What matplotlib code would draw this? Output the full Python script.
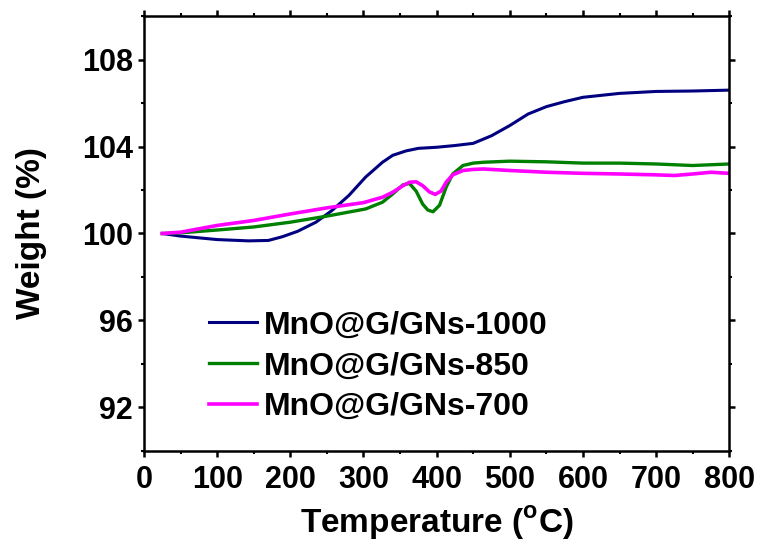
import matplotlib
matplotlib.use("Agg")
import matplotlib.pyplot as plt
from matplotlib.ticker import MultipleLocator

plt.rcParams["font.family"] = ["Liberation Sans", "DejaVu Sans"]
plt.rcParams["font.weight"] = "bold"
plt.rcParams["mathtext.fontset"] = "custom"
plt.rcParams["mathtext.rm"] = "Liberation Sans:bold"
plt.rcParams["mathtext.bf"] = "Liberation Sans:bold"

# TGA curves (temperature in C, weight in %)
t_1000 = [25, 50, 100, 143, 170, 189, 210, 235, 257, 280, 303, 326, 340, 358,
          375, 400, 425, 450, 475, 500, 525, 550, 575, 600, 650, 700, 750, 800]
w_1000 = [100.0, 99.88, 99.72, 99.66, 99.68, 99.85, 100.1, 100.52, 101.06,
          101.75, 102.6, 103.28, 103.6, 103.8, 103.92, 103.97, 104.05, 104.15,
          104.5, 104.97, 105.5, 105.84, 106.07, 106.27, 106.45, 106.54,
          106.56, 106.6]

t_850 = [25, 50, 100, 150, 200, 250, 303, 326, 340, 354, 363, 372, 381, 388,
         395, 404, 413, 422, 436, 450, 464, 500, 550, 600, 650, 700, 750, 800]
w_850 = [100.0, 100.03, 100.16, 100.3, 100.52, 100.8, 101.13, 101.44, 101.82,
         102.24, 102.3, 101.95, 101.35, 101.08, 101.0, 101.3, 102.13, 102.74,
         103.13, 103.24, 103.28, 103.33, 103.3, 103.24, 103.24, 103.2, 103.13,
         103.2]

t_700 = [25, 50, 100, 150, 200, 250, 300, 326, 340, 354, 363, 372, 381, 390,
         398, 406, 413, 422, 436, 450, 464, 500, 550, 600, 650, 700, 725, 750,
         775, 800]
w_700 = [100.0, 100.06, 100.37, 100.6, 100.9, 101.18, 101.42, 101.67, 101.9,
         102.2, 102.36, 102.38, 102.2, 101.92, 101.8, 101.95, 102.36, 102.7,
         102.9, 102.95, 102.97, 102.9, 102.82, 102.77, 102.74, 102.7, 102.67,
         102.74, 102.82, 102.77]

fig = plt.figure(figsize=(7.62, 5.43), dpi=100)
ax = fig.add_axes([0.189, 0.170, 0.768, 0.800])

ax.plot(t_1000, w_1000, color="#000080", lw=2.2, label="MnO@G/GNs-1000")
ax.plot(t_850, w_850, color="#008000", lw=2.4, label="MnO@G/GNs-850")
ax.plot(t_700, w_700, color="#ff00ff", lw=2.6, label="MnO@G/GNs-700")

ax.set_xlim(0, 800)
ax.set_ylim(90, 110)
ax.xaxis.set_major_locator(MultipleLocator(100))
ax.xaxis.set_minor_locator(MultipleLocator(50))
ax.yaxis.set_minor_locator(MultipleLocator(2))
ax.set_yticks([92, 96, 100, 104, 108])

for s in ax.spines.values():
    s.set_linewidth(1.8)
ax.tick_params(which="major", direction="out", length=4, width=1.8,
               labelsize=22, top=True, right=True)
ax.tick_params(which="minor", direction="out", length=2.5, width=1.5,
               top=True, right=True)
ax.tick_params(axis="x", pad=6)
ax.tick_params(axis="y", pad=4)

ax.set_xlabel(r"Temperature ($^{\rm o}$C)", fontsize=24, fontweight="bold", labelpad=7)
ax.set_ylabel("Weight (%)", fontsize=24, fontweight="bold", labelpad=25)

ax.legend(loc="upper left", bbox_to_anchor=(0.09, 0.352), frameon=False,
          fontsize=23, handlelength=1.5, handletextpad=0.2, labelspacing=0.34,
          borderaxespad=0)

fig.savefig("out.png", dpi=100)
